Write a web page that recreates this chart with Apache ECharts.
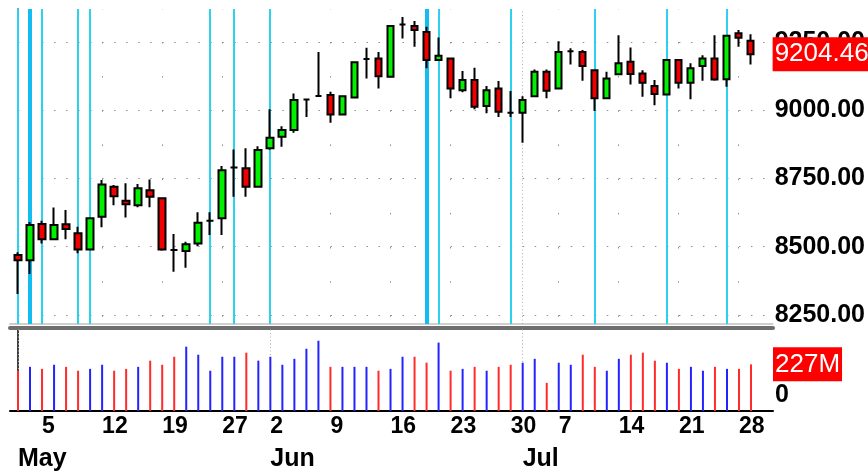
<!DOCTYPE html>
<html lang="en">
<head>
    <meta charset="UTF-8">
    <title>DJIA May - Jul</title>
    <script src="https://cdn.jsdelivr.net/npm/echarts@6/dist/echarts.min.js"></script>
    <style>
        html, body { margin: 0; padding: 0; background: #fff; }
        #main { width: 868px; height: 473px; }
    </style>
</head>
<body>
<div id="main"></div>
<script>
    // trading days (month/day)
    var dates = [
        '5/1', '5/2', '5/5', '5/6', '5/7', '5/8', '5/9', '5/12', '5/13', '5/14', '5/15', '5/16',
        '5/19', '5/20', '5/21', '5/22', '5/23', '5/27', '5/28', '5/29', '5/30',
        '6/2', '6/3', '6/4', '6/5', '6/6', '6/9', '6/10', '6/11', '6/12', '6/13',
        '6/16', '6/17', '6/18', '6/19', '6/20', '6/23', '6/24', '6/25', '6/26', '6/27', '6/30',
        '7/1', '7/2', '7/3', '7/7', '7/8', '7/9', '7/10', '7/11', '7/14', '7/15', '7/16', '7/17', '7/18',
        '7/21', '7/22', '7/23', '7/24', '7/25', '7/28', '7/29'
    ];
    var opens = [
        8470, 8450, 8583, 8527, 8582, 8549, 8490, 8610, 8719, 8668, 8652, 8707,
        8677, 8488, 8484, 8512, 8595, 8604, 8790, 8787, 8719,
        8860, 8902, 8927, 9039, 9052, 9055, 8984, 9046, 9187, 9189,
        9122, 9313, 9308, 9286, 9183, 9189, 9073, 9110, 9015, 9079, 8990,
        8990, 9051, 9140, 9079, 9215, 9213, 9146, 9043, 9131, 9177, 9134, 9088, 9057,
        9183, 9100, 9161, 9189, 9113, 9281, 9254
    ];
    var highs = [
        8480, 8590, 8595, 8643, 8634, 8573, 8606, 8744, 8726, 8732, 8729, 8746,
        8677, 8546, 8518, 8626, 8626, 8795, 8856, 8860, 8868,
        9003, 8941, 9061, 9042, 9213, 9067, 9053, 9178, 9228, 9213,
        9311, 9341, 9326, 9305, 9266, 9189, 9143, 9155, 9088, 9106, 9070,
        9051, 9149, 9149, 9252, 9226, 9220, 9146, 9140, 9274, 9229, 9146, 9110, 9183,
        9183, 9171, 9201, 9274, 9274, 9293, 9278
    ];
    var lows = [
        8327, 8400, 8512, 8525, 8527, 8476, 8488, 8571, 8652, 8607, 8644, 8644,
        8485, 8408, 8423, 8502, 8543, 8543, 8683, 8683, 8719,
        8855, 8866, 8917, 8975, 9050, 8954, 8982, 9043, 9116, 9079,
        9120, 9262, 9232, 9153, 9183, 9043, 9065, 9003, 8988, 8975, 8975,
        8880, 9051, 9043, 9079, 9167, 9107, 8997, 9043, 9131, 9094, 9049, 9018, 9057,
        9079, 9040, 9107, 9107, 9085, 9232, 9167
    ];
    var closes = [
        8450, 8579, 8527, 8579, 8565, 8490, 8604, 8728, 8685, 8655, 8714, 8683,
        8490, 8488, 8509, 8588, 8595, 8780, 8790, 8719, 8854,
        8899, 8927, 9037, 9039, 9052, 8984, 9051, 9175, 9187, 9124,
        9308, 9313, 9293, 9183, 9199, 9079, 9110, 9012, 9073, 8994, 8990,
        9037, 9140, 9071, 9213, 9215, 9161, 9043, 9116, 9171, 9132, 9100, 9059, 9183,
        9100, 9153, 9189, 9112, 9272, 9265, 9204.46
    ];
    // volume in millions
    var volumes = [
        196, 215, 205, 225, 215, 196, 205, 225, 196, 205, 215, 245,
        225, 264, 313, 274, 196, 264, 264, 284, 245,
        264, 225, 254, 303, 342, 215, 215, 215, 215, 196,
        205, 264, 264, 235, 333, 196, 205, 215, 196, 215, 225,
        235, 254, 137, 235, 225, 274, 215, 196, 254, 274, 284, 245, 235,
        205, 215, 196, 215, 205, 205, 227
    ];
    var prevClose = 8480;   // close before the first day

    var priceTicks = [8250, 8500, 8750, 9000, 9250];
    var weekTicks = ['5/5', '5/12', '5/19', '5/27', '6/2', '6/9', '6/16', '6/23', '6/30', '7/7', '7/14', '7/21', '7/28'];
    var monthTicks = ['5/1', '6/2', '7/1'];
    var monthNames = ['May', 'Jun', 'Jul'];
    // cyan marker lines
    var markerDays = ['5/1', '5/2', '5/5', '5/8', '5/9', '5/23', '5/28', '6/2', '6/19', '6/20', '6/30', '7/10', '7/18', '7/25'];
    var boldMarkerDays = ['5/2', '6/19'];

    var idx = function (d) { return dates.indexOf(d); };
    var weekIdx = weekTicks.map(idx);
    var monthIdx = monthTicks.map(idx);
    var xMin = -0.666, xMax = 62.83;
    var font = 'Liberation Sans';

    var candles = dates.map(function (d, i) {
        return [i, opens[i], closes[i], lows[i], highs[i]];
    });
    var volBars = volumes.map(function (v, i) {
        var before = i > 0 ? closes[i - 1] : prevClose;
        return { value: [i, v], itemStyle: { color: closes[i] >= before ? '#2323ff' : '#ff2a2a' } };
    });

    // dotted grid (drawn as mark lines)
    var gridRows = priceTicks.map(function (v) {
        return { yAxis: v, lineStyle: { color: '#909090', width: 1, type: [1.5, 10.516], dashOffset: 4 } };
    });
    var gridCols = weekIdx.map(function (i) {
        return { xAxis: i, lineStyle: { color: '#909090', width: 1, type: [1.5, 32.67], dashOffset: 27 } };
    });
    var cyanLines = markerDays.map(function (d) {
        var bold = boldMarkerDays.indexOf(d) >= 0;
        return { xAxis: idx(d), lineStyle: { color: bold ? '#12bdf2' : '#2ad2f0', width: bold ? 4 : 2, type: 'solid' } };
    });
    var monthLines = monthIdx.map(function (i) {
        return { xAxis: i, lineStyle: { color: '#b0b0b0', width: 1, type: [1, 2.5] } };
    });

    var redLabel = function (size, fmt) {
        return {
            show: true, position: 'end', distance: 0,
            backgroundColor: '#ff0000', color: '#fff',
            fontFamily: font, fontSize: size, padding: [5, 2, 3, 2],
            formatter: fmt
        };
    };

    var chart = echarts.init(document.getElementById('main'));
    var option = {
        animation: false,
        backgroundColor: '#ffffff',
        grid: [
            { left: 10, right: 95, top: 9, height: 315 },
            { left: 10, right: 95, top: 328, height: 83 }
        ],
        xAxis: [
            {
                type: 'value', gridIndex: 0, min: xMin, max: xMax,
                axisLine: { show: true, lineStyle: { color: '#cfcfcf', width: 2 } },
                axisTick: { show: false },
                axisLabel: { show: false },
                splitLine: { show: false }
            },
            {
                type: 'value', gridIndex: 1, min: xMin, max: xMax, position: 'bottom',
                axisLine: { show: true, onZero: false, lineStyle: { color: '#000', width: 2 } },
                axisTick: { show: false, customValues: weekIdx },
                splitLine: { show: false },
                axisLabel: {
                    customValues: weekIdx, showMinLabel: true, showMaxLabel: true,
                    align: 'left', verticalAlign: 'top', margin: 4,
                    fontFamily: font, fontWeight: 'bold', fontSize: 23, color: '#000',
                    formatter: function (v) { return dates[Math.round(v)].split('/')[1]; }
                }
            },
            {
                type: 'value', gridIndex: 1, min: xMin, max: xMax, position: 'bottom', offset: 32,
                axisLine: { show: false },
                axisTick: { show: false, customValues: monthIdx },
                splitLine: { show: false },
                axisLabel: {
                    customValues: monthIdx, showMinLabel: true, showMaxLabel: true,
                    align: 'left', verticalAlign: 'top', margin: 4,
                    fontFamily: font, fontWeight: 'bold', fontSize: 25, color: '#000',
                    formatter: function (v) { return monthNames[monthIdx.indexOf(Math.round(v))]; }
                }
            },
            {
                type: 'value', gridIndex: 1, min: xMin, max: xMax, position: 'top',
                axisLine: { show: true, onZero: false, lineStyle: { color: '#6e6e6e', width: 4 } },
                axisTick: { show: false }, axisLabel: { show: false }, splitLine: { show: false }
            }
        ],
        yAxis: [
            {
                type: 'value', gridIndex: 0, position: 'right', min: 8217, max: 9370,
                axisLine: { show: true, lineStyle: { color: '#000', width: 1.5 } },
                axisTick: { show: false, customValues: priceTicks },
                axisLabel: {
                    customValues: priceTicks, margin: 2,
                    fontFamily: font, fontWeight: 'bold', fontSize: 25, color: '#000',
                    formatter: function (v) { return v.toFixed(2); }
                },
                splitLine: { show: false }
            },
            {
                type: 'value', gridIndex: 1, position: 'right', min: 0, max: 404,
                axisLine: { show: true, lineStyle: { color: '#000', width: 1.5 } },
                axisTick: { show: false, customValues: [0] },
                axisLabel: {
                    customValues: [0], margin: 2, verticalAlign: 'bottom', padding: [0, 0, 3, 0],
                    fontFamily: font, fontWeight: 'bold', fontSize: 25, color: '#000'
                },
                splitLine: { show: false }
            }
        ],
        series: [
            {
                // grid dots and marker lines behind the candles
                type: 'scatter', xAxisIndex: 0, yAxisIndex: 0, data: [], z: 1, silent: true,
                markLine: {
                    z: 1, silent: true, symbol: 'none', animation: false,
                    label: { show: false },
                    data: gridRows.concat(gridCols, monthLines, cyanLines)
                }
            },
            {
                type: 'candlestick', xAxisIndex: 0, yAxisIndex: 0, z: 3,
                barWidth: 7,
                data: candles,
                itemStyle: {
                    color: '#00f000', color0: '#f00000',
                    borderColor: '#000', borderColor0: '#000', borderColorDoji: '#000',
                    borderWidth: 2
                },
                markLine: {
                    z: 6, silent: true, symbol: 'none', animation: false,
                    lineStyle: { width: 0, color: 'rgba(0,0,0,0)' },
                    label: redLabel(26, function (p) { return p.value.toFixed(2); }),
                    data: [{ yAxis: closes[closes.length - 1] }]
                }
            },
            {
                type: 'bar', xAxisIndex: 1, yAxisIndex: 1, z: 3,
                barWidth: 2,
                data: volBars,
                markLine: {
                    z: 1, silent: true, symbol: 'none', animation: false,
                    label: { show: false },
                    data: monthLines
                }
            },
            {
                // last volume tag
                type: 'scatter', xAxisIndex: 1, yAxisIndex: 1, data: [], z: 6, silent: true,
                markLine: {
                    z: 6, silent: true, symbol: 'none', animation: false,
                    lineStyle: { width: 0, color: 'rgba(0,0,0,0)' },
                    label: redLabel(26, function (p) { return p.value + 'M'; }),
                    data: [{ yAxis: volumes[volumes.length - 1] }]
                }
            }
        ]
    };
    chart.setOption(option);
</script>
</body>
</html>
